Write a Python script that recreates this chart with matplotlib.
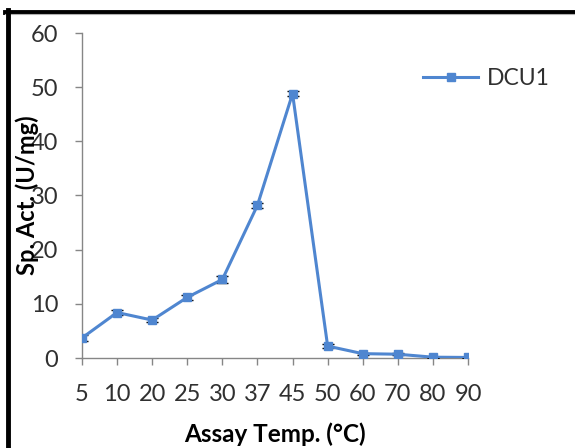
import matplotlib
matplotlib.use("Agg")
import matplotlib.pyplot as plt
from matplotlib.lines import Line2D

plt.rcParams["font.family"] = ["Lato", "DejaVu Sans"]

# Specific activity vs assay temperature
temps = ["5", "10", "20", "25", "30", "37", "45", "50", "60", "70", "80", "90"]
activity = [3.7, 8.4, 7.0, 11.2, 14.5, 28.2, 48.8, 2.2, 0.8, 0.7, 0.15, 0.1]
errors = [0.5, 0.4, 0.3, 0.4, 0.7, 0.5, 0.5, 0.3, 0.2, 0.2, 0.1, 0.1]

line_color = "#4F86D0"
axis_color = "#868686"

fig = plt.figure(figsize=(5.75, 4.48), dpi=100)
ax = fig.add_axes([82 / 575, 1 - 358 / 448, (468 - 82) / 575, (358 - 33) / 448])

x = list(range(len(temps)))
ax.errorbar(x, activity, yerr=errors, fmt="none", ecolor="black",
            elinewidth=1.0, capsize=4, capthick=1.0, zorder=2)
ax.plot(x, activity, color=line_color, linewidth=2.2, marker="s",
        markersize=6, label="DCU1", zorder=3)

ax.set_xlim(0, len(temps) - 1)
ax.set_ylim(0, 60)
ax.set_xticks(x)
ax.set_xticklabels(temps)
ax.set_yticks(range(0, 61, 10))

for side in ["top", "right"]:
    ax.spines[side].set_visible(False)
for side in ["left", "bottom"]:
    ax.spines[side].set_color(axis_color)
    ax.spines[side].set_linewidth(1.0)
ax.spines["bottom"].set_zorder(1)

ax.tick_params(axis="both", colors=axis_color, length=5, width=1.0,
               labelcolor="#303030", labelsize=17)
ax.tick_params(axis="x", pad=14)
ax.tick_params(axis="y", pad=12)

ax.set_xlabel("Assay Temp. (°C)", fontsize=17.5, fontweight="bold",
              color="black", labelpad=12)
ax.set_ylabel("Sp. Act. (U/mg)", fontsize=17, fontweight="bold",
              color="black")
ax.yaxis.set_label_coords(-0.111, 0.50)

ax.legend(loc="upper left", bbox_to_anchor=(0.83, 0.955), frameon=False,
          fontsize=16.5, handlelength=2.4, handletextpad=0.4,
          labelcolor="#303030")

# frame lines along the top and left edges
fig.add_artist(Line2D([5 / 575, 1], [1 - 12 / 448, 1 - 12 / 448],
                      color="black", linewidth=3.5, transform=fig.transFigure))
fig.add_artist(Line2D([5 / 575, 1], [1 - 14.5 / 448, 1 - 14.5 / 448],
                      color="#b0b0b0", linewidth=0.8, transform=fig.transFigure))
fig.add_artist(Line2D([7.5 / 575, 7.5 / 575], [0, 1 - 10 / 448],
                      color="black", linewidth=3.5, transform=fig.transFigure))

fig.savefig("out.png", dpi=100)
